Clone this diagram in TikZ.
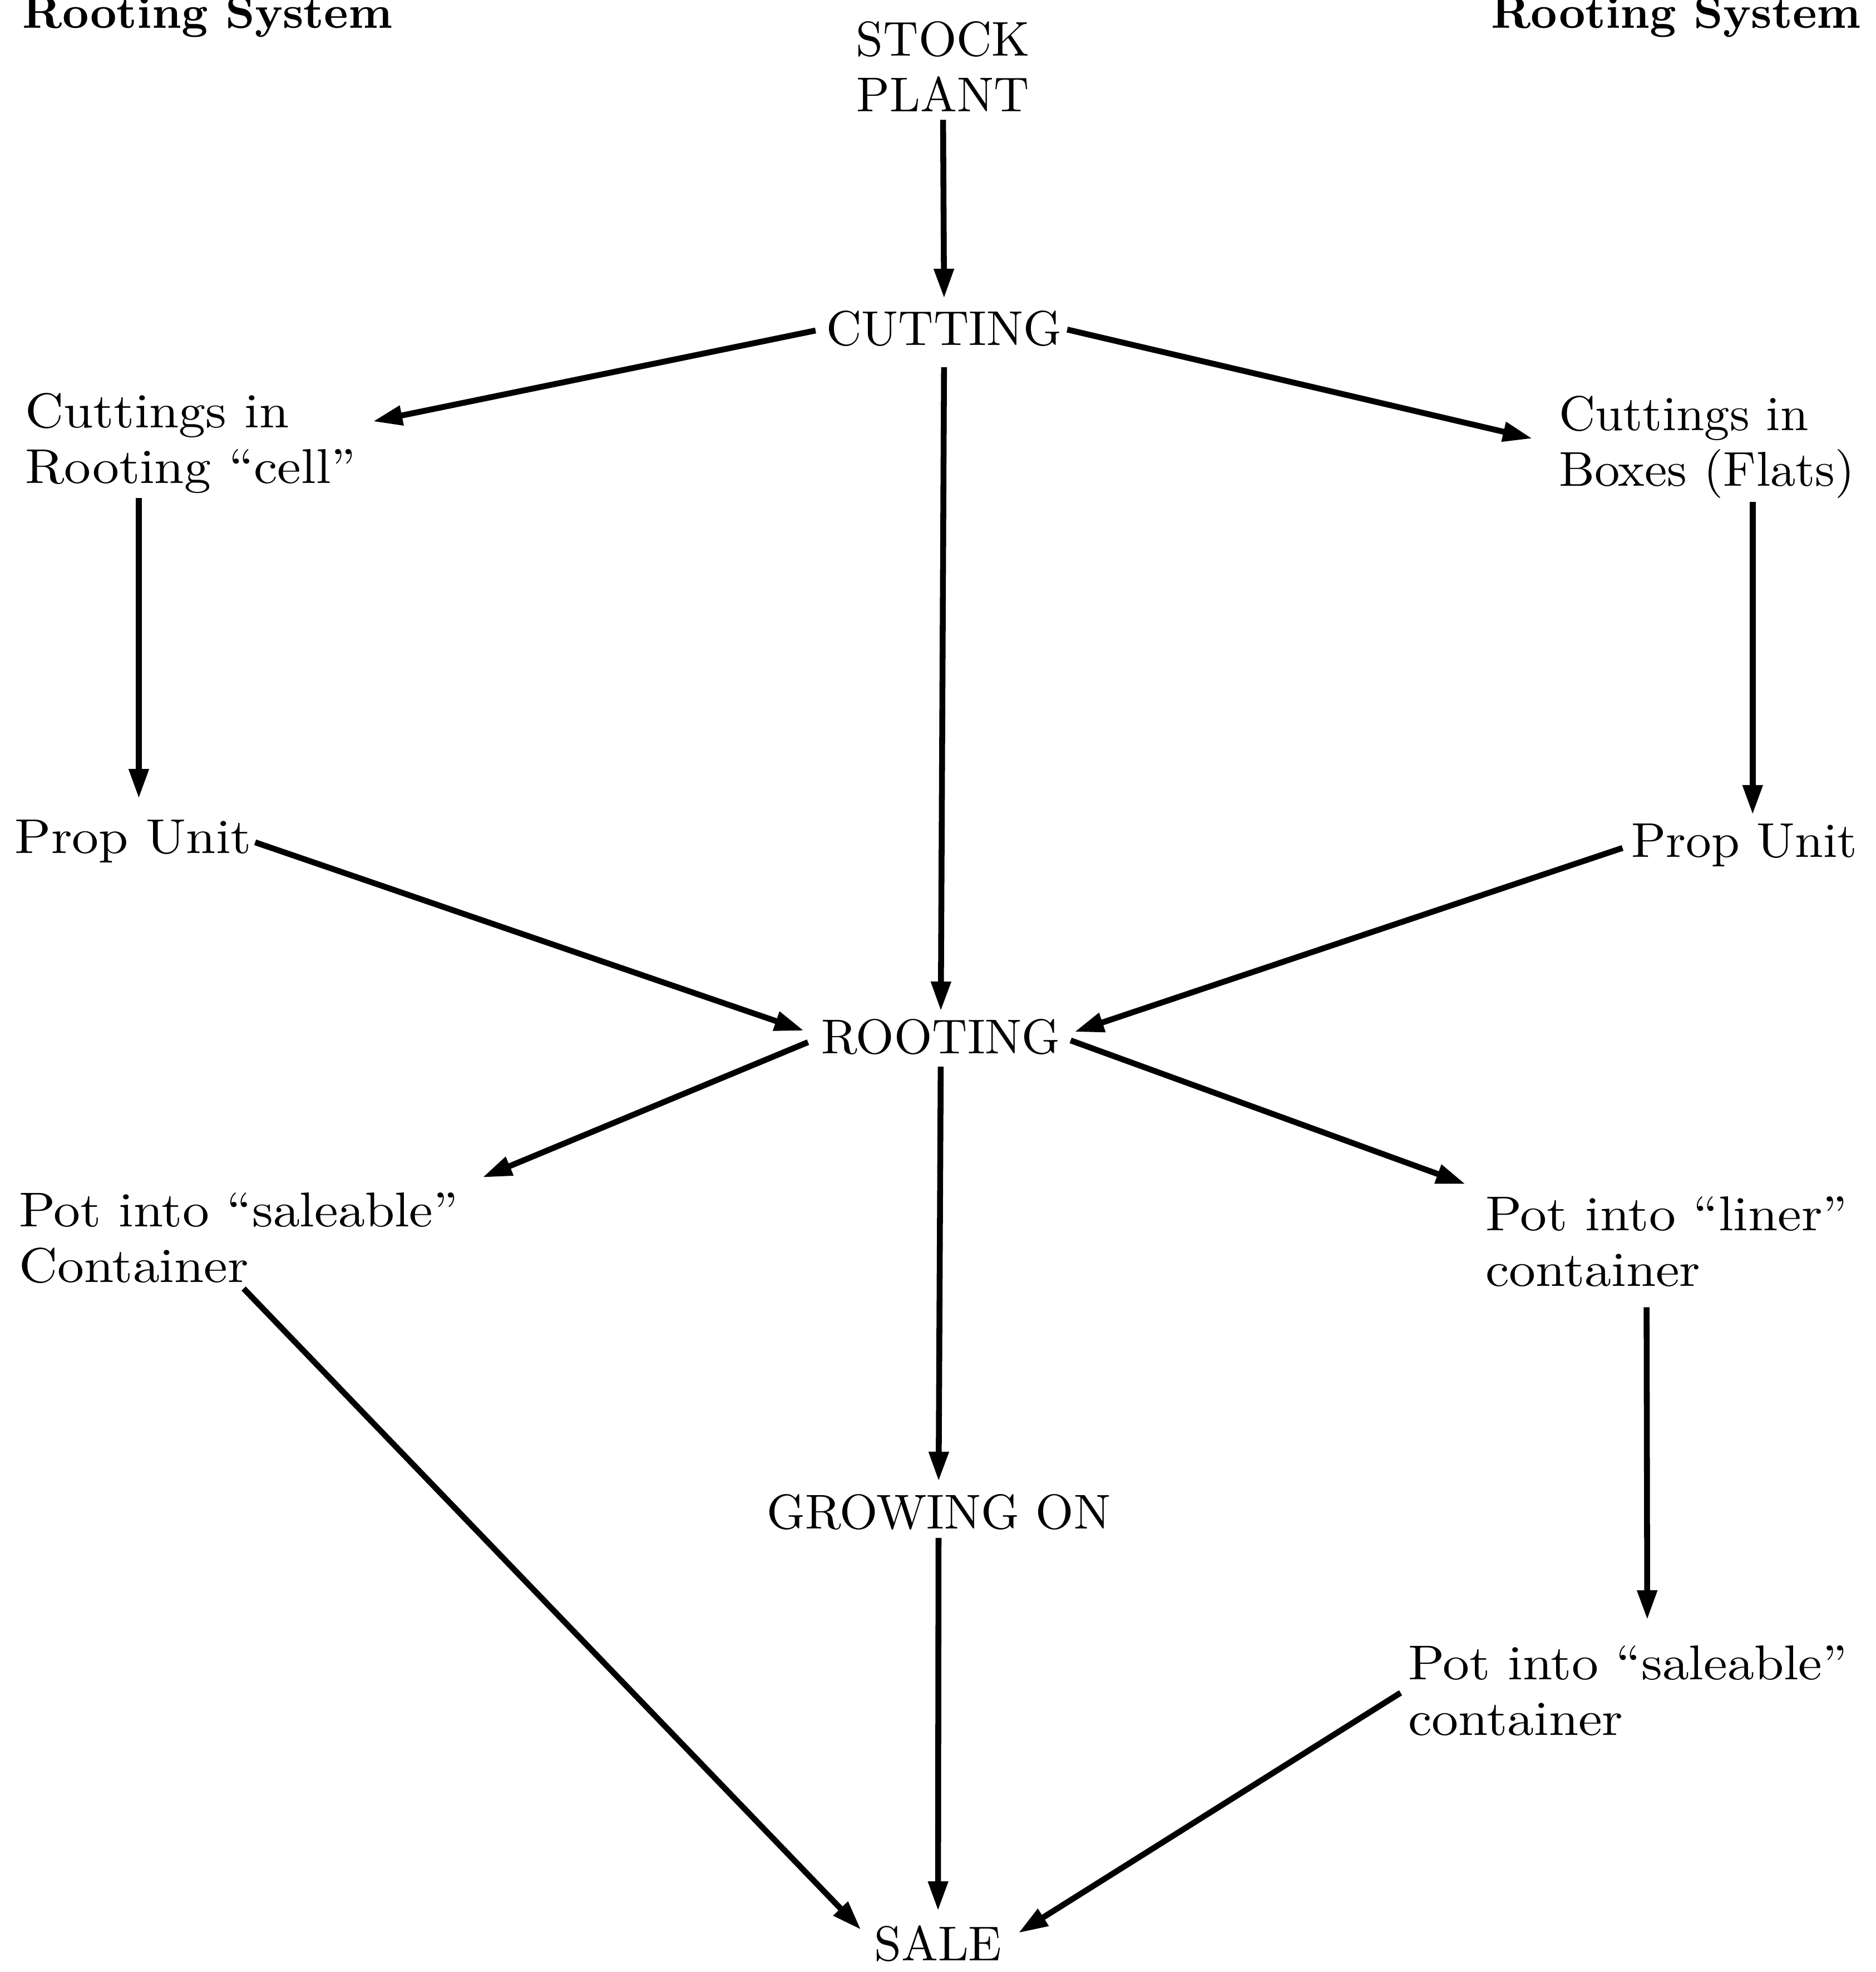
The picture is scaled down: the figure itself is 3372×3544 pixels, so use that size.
\documentclass[tikz,border=0pt]{standalone}
\usetikzlibrary{arrows.meta}
\newcommand\lnstrut{\rule{0pt}{8pt}}
\begin{document}
\begin{tikzpicture}[x=0.01cm,y=-0.01cm,
  every node/.style={inner sep=0pt, outer sep=0pt, font=\fontsize{10}{11.38}\selectfont, scale=2.5, transform shape},
  lbl/.style={align=left},
  ctr/.style={align=center},
  wide/.style={xscale=1.09},
  head/.style={font=\fontsize{10}{12}\selectfont\bfseries, scale=0.94},
  arr/.style={line width=3pt, -{Triangle[length=0.53cm,width=0.34cm]}}]
\useasboundingbox (0,0) rectangle (3372,3544);
\node[head, anchor=base west] (hl) at (41,50) {Rooting System};
\node[head, anchor=base east] (hr) at (3345,50) {Rooting System};
\node[ctr, anchor=north] (stock) at (1695,30) {\lnstrut STOCK\\PLANT};
\node[anchor=base] (cutting) at (1697,620) {CUTTING};
\node[lbl, wide, anchor=north west] (cellL) at (45,698) {\lnstrut Cuttings in\\Rooting “cell”};
\node[lbl, xscale=1.03, anchor=north west] (cellR) at (2802,703) {\lnstrut Cuttings in\\Boxes (Flats)};
\node[wide, anchor=base west] (propL) at (27,1533) {Prop Unit};
\node[xscale=1.04, anchor=base east] (propR) at (3338,1540) {Prop Unit};
\node[anchor=base] (rooting) at (1691,1893) {ROOTING};
\node[lbl, wide, anchor=north west] (potL) at (34,2134) {\lnstrut Pot into “saleable”\\Container};
\node[lbl, wide, anchor=north west] (potR) at (2670,2141) {\lnstrut Pot into “liner”\\container};
\node[anchor=base] (growing) at (1687,2747) {GROWING ON};
\node[lbl, wide, anchor=north west] (potS) at (2531,2948) {\lnstrut Pot into “saleable”\\container};
\node[anchor=base] (sale) at (1686,3523) {SALE};
\draw[arr, shorten <=0.15cm, shorten >=0.22cm] (stock.south) -- (cutting.north);
\draw[arr, shorten <=0.2cm, shorten >=0.31cm] (cutting.west) -- (cellL.6);
\draw[arr, shorten <=0.1cm, shorten >=0.49cm] (cutting.east) -- (cellR.west);
\draw[arr, shorten <=0.38cm, shorten >=0.14cm] (cutting.south) -- (rooting.north);
\draw[arr, shorten <=0.08cm, shorten >=0.38cm] ([xshift=0.1cm]cellL.south -| propL.north) -- ([xshift=0.1cm]propL.north);
\draw[arr, shorten <=0.07cm, shorten >=0.16cm] ([xshift=0.15cm]cellR.south -| propR.north) -- ([xshift=0.15cm]propR.north);
\draw[arr, shorten <=0.07cm, shorten >=0.33cm] (propL.east) -- (rooting.west);
\draw[arr, shorten <=0.17cm, shorten >=0.27cm] (propR.west) -- (rooting.east);
\draw[arr, shorten <=0.26cm, shorten >=0.47cm] (rooting.west) -- (potL.north east);
\draw[arr, shorten <=0.2cm, shorten >=0.38cm] (rooting.east) -- (potR.north west);
\draw[arr, shorten <=0.22cm, shorten >=0.23cm] (rooting.south) -- (growing.north);
\draw[arr, shorten <=0.37cm, shorten >=0.37cm] ([xshift=-0.36cm]potR.south) -- ([xshift=0.35cm]potS.north);
\draw[arr, shorten <=0.15cm, shorten >=0.26cm] (growing.south) -- (sale.north);
\draw[arr, shorten <=0.13cm, shorten >=0.34cm] (potL.south) -- (sale.west);
\draw[arr, shorten <=0.16cm, shorten >=0.35cm] (potS.west) -- (sale.east);
\end{tikzpicture}
\end{document}
